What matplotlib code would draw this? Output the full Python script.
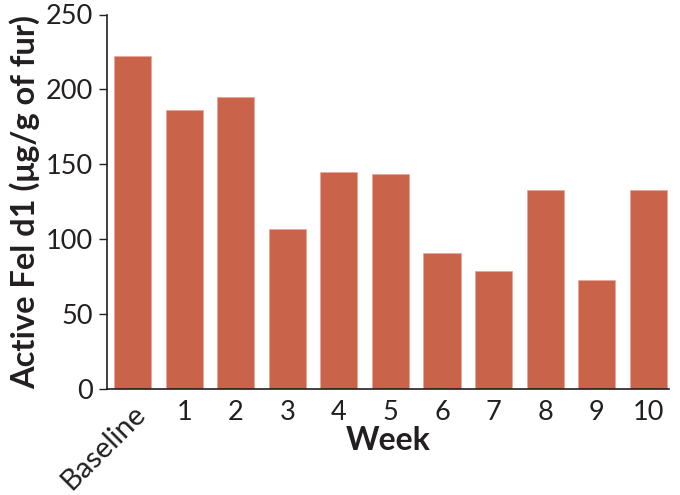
import matplotlib
matplotlib.use("Agg")
import matplotlib.pyplot as plt

categories = ["Baseline", "1", "2", "3", "4", "5", "6", "7", "8", "9", "10"]
values = [222, 186, 195, 107, 145, 143.5, 90.5, 79, 133, 73, 133]
yticks = [0, 50, 100, 150, 200, 250]

plt.rcParams['font.family'] = ['Lato', 'DejaVu Sans']
text_color = '#231f20'
bar_color = '#C9634A'

fig = plt.figure(figsize=(6.8, 4.95), dpi=100)
ax = fig.add_axes([107/680, 1 - 389/495, (669-107)/680, (389-14.5)/495])

x = list(range(len(categories)))
ax.bar(x, values, width=0.72, color=bar_color, edgecolor='#E9A896', linewidth=0.6, zorder=2)

ax.set_xlim(-0.495, 10.4)
ax.set_ylim(0, 250)
ax.set_yticks(yticks)
ax.set_yticklabels([str(v) for v in yticks], fontsize=19.5, color=text_color)
ax.set_xticks(x)
labels = ax.set_xticklabels(categories, fontsize=19.5, color=text_color)
labels[0].set_rotation(45)
labels[0].set_ha('right')
labels[0].set_va('top')
labels[0].set_rotation_mode('anchor')
labels[0].set_fontsize(21)

ax.tick_params(axis='x', length=0, pad=8)
ax.tick_params(axis='y', length=6, width=1, pad=4, color=text_color)

for s in ['top', 'right']:
    ax.spines[s].set_visible(False)
for s in ['left', 'bottom']:
    ax.spines[s].set_color(text_color)
    ax.spines[s].set_linewidth(1.2)

ax.set_xlabel("Week", fontsize=23, fontweight='bold', color=text_color)
ax.xaxis.set_label_coords(0.5, -0.1)
ax.set_ylabel("Active Fel d1 (μg/g of fur)", fontsize=23.5, fontweight='bold', color=text_color)
ax.yaxis.set_label_coords(-0.118, 0.5)

fig.savefig("out.png", dpi=100)
